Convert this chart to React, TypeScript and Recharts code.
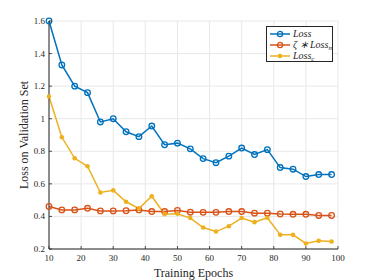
import React from "react";
import { LineChart, Line, XAxis, YAxis, CartesianGrid } from "recharts";

const epochs = [10, 14, 18, 22, 26, 30, 34, 38, 42, 46, 50, 54, 58, 62, 66, 70, 74, 78, 82, 86, 90, 94, 98];
const lossTotal = [1.6, 1.33, 1.2, 1.16, 0.98, 1.0, 0.92, 0.89, 0.955, 0.84, 0.85, 0.815, 0.755, 0.73, 0.77, 0.82, 0.78, 0.81, 0.7, 0.69, 0.645, 0.657, 0.657];
const lossM = [0.461, 0.44, 0.44, 0.45, 0.434, 0.434, 0.435, 0.44, 0.43, 0.43, 0.437, 0.426, 0.425, 0.425, 0.43, 0.43, 0.42, 0.42, 0.415, 0.413, 0.413, 0.406, 0.406];
const lossC = [1.136, 0.886, 0.757, 0.708, 0.547, 0.56, 0.49, 0.448, 0.524, 0.414, 0.416, 0.39, 0.332, 0.307, 0.34, 0.39, 0.365, 0.392, 0.287, 0.287, 0.234, 0.25, 0.246];

const xTicks = [10, 20, 30, 40, 50, 60, 70, 80, 90, 100];
const yTicks = [0.2, 0.4, 0.6, 0.8, 1, 1.2, 1.4, 1.6];

const BLUE = "#0072BD";
const ORANGE = "#D95319";
const YELLOW = "#EDB120";
const AXIS = "#262626";
const FONT = "'Liberation Serif', 'Times New Roman', serif";

const data = epochs.map((e, i) => ({
  epoch: e,
  loss: lossTotal[i],
  lossM: lossM[i],
  lossC: lossC[i],
}));

const fmt = (v: number) => String(Math.round(v * 10) / 10);

// MATLAB-style inward ticks
const BottomTick = (p: any) => (
  <g>
    <line x1={p.x} y1={p.y} x2={p.x} y2={p.y - 3} stroke={AXIS} strokeWidth={0.8} />
    <text x={p.x} y={p.y + 12} textAnchor="middle" fontSize={9} style={{ fontFamily: FONT }} fill={AXIS}>
      {p.payload.value}
    </text>
  </g>
);
const TopTick = (p: any) => (
  <line x1={p.x} y1={p.y} x2={p.x} y2={p.y + 3} stroke={AXIS} strokeWidth={0.8} />
);
const LeftTick = (p: any) => (
  <g>
    <line x1={p.x} y1={p.y} x2={p.x + 3} y2={p.y} stroke={AXIS} strokeWidth={0.8} />
    <text x={p.x - 4} y={p.y + 3} textAnchor="end" fontSize={9} style={{ fontFamily: FONT }} fill={AXIS}>
      {fmt(p.payload.value)}
    </text>
  </g>
);
const RightTick = (p: any) => (
  <line x1={p.x} y1={p.y} x2={p.x - 3} y2={p.y} stroke={AXIS} strokeWidth={0.8} />
);

const subStyle: React.CSSProperties = { fontSize: 7, lineHeight: 0, verticalAlign: "-2px" };

const LegendRow = ({ color, filled, children }: { color: string; filled?: boolean; children: React.ReactNode }) => (
  <div style={{ display: "flex", alignItems: "center", height: 11, whiteSpace: "nowrap" }}>
    <svg width={22} height={8} style={{ marginRight: 2, flex: "none" }}>
      <line x1={1} y1={4} x2={21} y2={4} stroke={color} strokeWidth={1.5} />
      {filled ? (
        <circle cx={11} cy={4} r={2.3} fill={color} />
      ) : (
        <circle cx={11} cy={4} r={2.6} fill="none" stroke={color} strokeWidth={1.3} />
      )}
    </svg>
    <span style={{ fontStyle: "italic", fontSize: 10, fontFamily: FONT, color: AXIS, lineHeight: "10px", whiteSpace: "nowrap" }}>
      {children}
    </span>
  </div>
);

export default function App() {
  return (
    <div style={{ position: "absolute", left: 0, top: 0, width: 374, height: 280, background: "#fff" }}>
      <LineChart width={374} height={280} data={data} margin={{ top: 21, right: 36, bottom: 0, left: 0 }}>
        <CartesianGrid stroke="#e8e8e8" strokeWidth={1} />
        <XAxis
          dataKey="epoch"
          type="number"
          domain={[10, 100]}
          ticks={xTicks}
          height={31}
          stroke={AXIS}
          tickSize={0}
          tickMargin={0}
          tickLine={false}
          tick={BottomTick}
          label={{ value: "Training Epochs", position: "insideBottom", offset: 3, fontSize: 12, fontFamily: FONT, fill: AXIS }}
        />
        <XAxis
          xAxisId="top"
          orientation="top"
          dataKey="epoch"
          type="number"
          domain={[10, 100]}
          ticks={xTicks}
          height={0}
          stroke={AXIS}
          tickSize={0}
          tickMargin={0}
          tickLine={false}
          tick={TopTick}
        />
        <YAxis
          type="number"
          domain={[0.2, 1.6]}
          ticks={yTicks}
          width={49}
          stroke={AXIS}
          tickSize={0}
          tickMargin={0}
          tickLine={false}
          tick={LeftTick}
          label={{ value: "Loss on Validation Set", angle: -90, position: "center", dx: -1, fontSize: 12, fontFamily: FONT, fill: AXIS }}
        />
        <YAxis
          yAxisId="right"
          orientation="right"
          type="number"
          domain={[0.2, 1.6]}
          ticks={yTicks}
          width={0}
          stroke={AXIS}
          tickSize={0}
          tickMargin={0}
          tickLine={false}
          tick={RightTick}
        />
        <Line
          dataKey="loss"
          stroke={BLUE}
          strokeWidth={1.5}
          dot={{ r: 2.8, fill: "none", stroke: BLUE, strokeWidth: 1.3 }}
          isAnimationActive={false}
        />
        <Line
          dataKey="lossM"
          stroke={ORANGE}
          strokeWidth={1.5}
          dot={{ r: 2.8, fill: "none", stroke: ORANGE, strokeWidth: 1.3 }}
          isAnimationActive={false}
        />
        <Line
          dataKey="lossC"
          stroke={YELLOW}
          strokeWidth={1.5}
          dot={{ r: 2.3, fill: YELLOW, stroke: YELLOW, strokeWidth: 0 }}
          isAnimationActive={false}
        />
      </LineChart>
      <div
        style={{
          position: "absolute",
          left: 266,
          top: 26,
          width: 67,
          height: 36,
          border: `1px solid ${AXIS}`,
          background: "#fff",
          padding: "1px 0 0 2px",
          boxSizing: "border-box",
          overflow: "hidden",
        }}
      >
        <LegendRow color={BLUE}>Loss</LegendRow>
        <LegendRow color={ORANGE}>
          {"\u03B6 \u2217 Loss"}
          <sub style={subStyle}>m</sub>
        </LegendRow>
        <LegendRow color={YELLOW} filled>
          Loss<sub style={subStyle}>c</sub>
        </LegendRow>
      </div>
    </div>
  );
}
